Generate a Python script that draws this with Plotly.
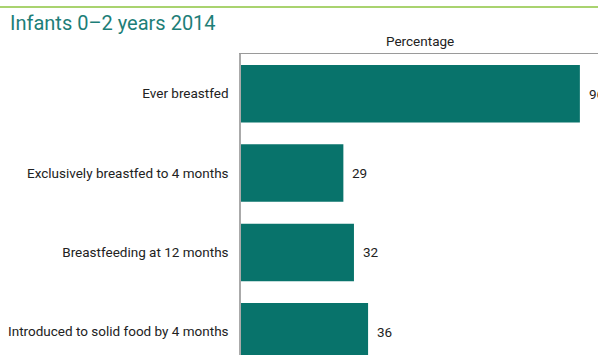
import plotly.graph_objects as go

# Infant feeding indicators, 2014
categories = [
    "Ever breastfed",
    "Exclusively breastfed to 4 months",
    "Breastfeeding at 12 months",
    "Introduced to solid food by 4 months",
]
values = [96, 29, 32, 36]

BAR = "#08736b"
TEAL_TITLE = "#1d7e78"
TEXT = "#222222"
FONT = "Roboto"

W, H = 598, 355
L, T = 241, 54
plot_w, plot_h = W - L, H - T

fig = go.Figure(
    go.Bar(
        x=values,
        y=list(range(len(categories))),
        orientation="h",
        marker=dict(color=BAR, line=dict(width=0)),
        hoverinfo="skip",
    )
)

# value labels just past each bar end
for i, v in enumerate(values):
    fig.add_annotation(
        x=v, y=i, xref="x", yref="y", text=str(v), showarrow=False,
        xanchor="left", xshift=7, font=dict(family=FONT, size=13.5, color=TEXT),
    )

# column header above the plot
fig.add_annotation(
    x=0.5, y=1 + 13 / plot_h, xref="paper", yref="paper", text="Percentage",
    showarrow=False, xanchor="center", yanchor="middle",
    font=dict(family=FONT, size=13.5, color=TEXT),
)

# green rule across the top of the figure
fig.add_shape(
    type="line", xref="paper", yref="paper",
    x0=-L / plot_w, x1=1, y0=1 + (T - 7) / plot_h, y1=1 + (T - 7) / plot_h,
    line=dict(color="#8cc43f", width=1.5),
)

fig.update_layout(
    width=W, height=H,
    margin=dict(l=L, r=0, t=T, b=0, pad=0),
    paper_bgcolor="white", plot_bgcolor="white",
    showlegend=False,
    bargap=0.275,
    title=dict(
        text="Infants 0\u20132 years 2014", x=10 / W, xanchor="left",
        y=1 - 23 / H, yanchor="middle",
        font=dict(family=FONT, size=20, color=TEAL_TITLE),
    ),
    xaxis=dict(
        range=[0, plot_w / 3.53], side="top", showline=True, linecolor="#9a9a9a",
        linewidth=1, showgrid=False, zeroline=False, showticklabels=False, ticks="",
        fixedrange=True,
    ),
    yaxis=dict(
        range=[3.293, -0.501], tickmode="array",
        tickvals=list(range(len(categories))), ticktext=categories,
        showline=True, linecolor="#aaaaaa", linewidth=1.5, showgrid=False,
        zeroline=False, ticks="", ticklabelstandoff=8,
        tickfont=dict(family=FONT, size=13.5, color=TEXT), fixedrange=True,
    ),
)

fig.write_html("out.html")
